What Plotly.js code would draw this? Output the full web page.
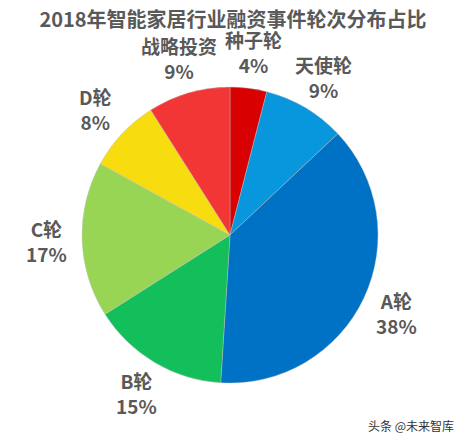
<!DOCTYPE html>
<html><head><meta charset="utf-8">
<script src="https://cdn.plot.ly/plotly-3.0.1.min.js"></script>
<style>html,body{margin:0;padding:0;background:#fff}#c{width:466px;height:441px}</style>
</head><body><div id="c"></div>
<script>
const labels = ['种子轮','天使轮','A轮','B轮','C轮','D轮','战略投资'];
const values = [4, 9, 38, 15, 17, 8, 9];
const colors = ['#d80000','#0896dc','#0072c6','#12bf5a','#98d554','#f7dd10','#f23535'];
const font = '"Noto Sans CJK SC", "Open Sans", sans-serif';
const W = 466, H = 441;
const cx = 230, cy = 235, R = 148, labelR = 184;
const trace = {
  type: 'pie', labels: labels, values: values, sort: false, direction: 'clockwise', rotation: 0,
  marker: {colors: colors, line: {color: 'rgba(190,190,190,0.7)', width: 0.6}},
  textinfo: 'none', hoverinfo: 'none', showlegend: false,
  domain: {x: [(cx-R)/W, (cx+R)/W], y: [1-(cy+R)/H, 1-(cy-R)/H]}
};
// label positions derived from the slice mid-angles
const total = values.reduce((a,b)=>a+b,0);
let cum = 0;
const anns = labels.map((lab,i)=>{
  const mid = (cum + values[i]/2)/total*2*Math.PI; cum += values[i];
  const px = cx + labelR*Math.sin(mid), py = cy - labelR*Math.cos(mid);
  return {text: '<b>'+lab+'</b><br><b>'+Math.round(values[i]/total*100)+'%</b>', x: px/W, y: 1-py/H,
    xref:'paper', yref:'paper', xanchor:'center', yanchor:'middle', showarrow:false, align:'center',
    font:{family:font, size:19, color:'#595959'}};
});
anns.push({text: '头条 @未来智库', x: 1-10/W, xanchor: 'right', y: 1-425/H, yanchor: 'middle', xref: 'paper', yref: 'paper', showarrow: false, font: {family: font, size: 12, color: '#333'}});
const layout = {
  width: W, height: H, margin: {l: 0, r: 0, t: 0, b: 0},
  paper_bgcolor: '#fff', showlegend: false,
  title: {text: '<b>2018年智能家居行业融资事件轮次分布占比</b>', font: {family: font, size: 20, color: '#595959'}, x: 0.5, xanchor: 'center', y: 1-20/H, yanchor: 'middle'},
  annotations: anns
};
Plotly.newPlot('c', [trace], layout, {displayModeBar: false, staticPlot: true});
</script></body></html>
